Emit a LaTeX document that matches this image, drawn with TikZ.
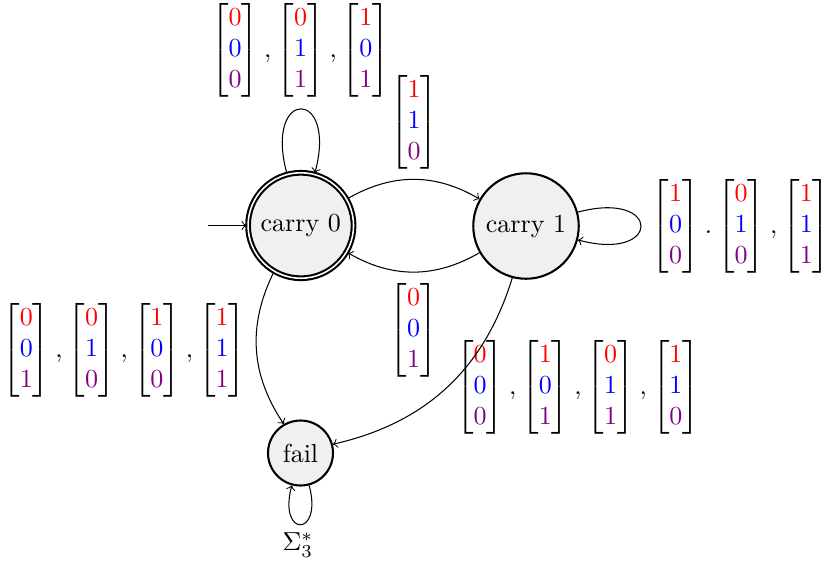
\documentclass[tikz,border=0pt]{standalone}
\usepackage{amsmath}
\usetikzlibrary{automata}
\newcommand{\cv}[3]{\begin{bmatrix}\color{red}#1\\\color{blue}#2\\\color{violet}#3\end{bmatrix}}
\newcommand{\sepc}{\mkern0.6mu,\mkern0.6mu}
\newcommand{\sepd}{\mkern0.6mu.\mkern0.6mu}
\begin{document}
\begin{tikzpicture}[x=0.3846pt,y=0.3846pt,>=to,
  every state/.style={thick,fill=black!6},
  lbl/.style={inner sep=0pt}]
\useasboundingbox (0,0) rectangle (823,-565);
\node[state,initial,accepting,initial text=,initial distance=14.8pt] (c0) at (300.8,-225.5) {carry 0};
\node[state] (c1) at (526,-226) {carry 1};
\node[state] (f) at (300.5,-453) {fail};
\node[lbl] (l00) at (300.5,-50.5) {$\cv000\sepc\cv011\sepc\cv101$};
\node[lbl] (l01) at (414,-122.5) {$\cv110$};
\node[lbl] (l10) at (413.5,-330.5) {$\cv001$};
\node[lbl] (l11) at (741,-226.5) {$\cv100\sepd\cv010\sepc\cv111$};
\node[lbl] (l0f) at (124.3,-350.5) {$\cv001\sepc\cv010\sepc\cv100\sepc\cv111$};
\node[lbl] (l1f) at (578,-387.5) {$\cv000\sepc\cv101\sepc\cv011\sepc\cv110$};
\node (lff) at (298,-545) {$\Sigma_3^*$};
\draw[->] (c0) to[loop above] (c0);
\draw[->] (c0) to[bend left] (c1);
\draw[->] (c1) to[bend left] (c0);
\draw[->] (c1) to[loop right] (c1);
\draw[->] (c0) to[bend right] (f);
\draw[->] (c1) to[bend left] (f);
\draw[->] (f) to[out=-75,in=-105,loop] (f);
\end{tikzpicture}
\end{document}
